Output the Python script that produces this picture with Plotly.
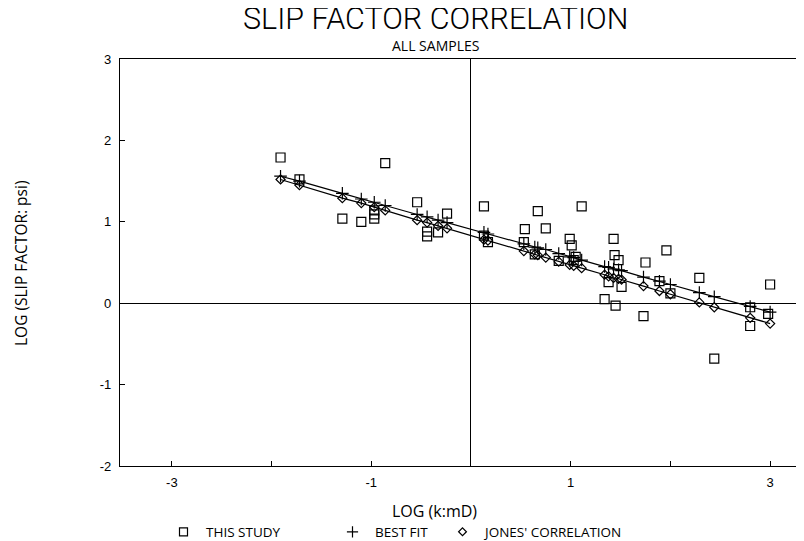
import plotly.graph_objects as go

# ---- data ----
study_x = [-1.91, -1.72, -1.29, -1.10, -0.97, -0.97, -0.97, -0.86, -0.54, -0.44,
           -0.44, -0.33, -0.24, 0.13, 0.13, 0.17, 0.53, 0.54, 0.64, 0.67,
           0.75, 0.88, 0.99, 1.01, 1.03, 1.05, 1.11, 1.34, 1.38, 1.43,
           1.44, 1.45, 1.48, 1.51, 1.73, 1.75, 1.89, 1.96, 2.00, 2.29,
           2.44, 2.80, 2.80, 2.98, 3.00]
study_y = [1.79, 1.52, 1.04, 1.00, 1.14, 1.09, 1.04, 1.72, 1.24, 0.88,
           0.82, 0.87, 1.10, 1.19, 0.83, 0.75, 0.75, 0.91, 0.60, 1.13,
           0.92, 0.52, 0.79, 0.71, 0.53, 0.57, 1.19, 0.05, 0.26, 0.79,
           0.59, -0.03, 0.53, 0.20, -0.16, 0.50, 0.27, 0.65, 0.12, 0.31,
           -0.68, -0.05, -0.28, -0.13, 0.23]

fit_x = [-1.91, -1.72, -1.29, -1.10, -0.97, -0.86, -0.54, -0.44, -0.33, -0.24,
         0.13, 0.17, 0.53, 0.64, 0.67, 0.75, 0.88, 0.99, 1.03, 1.11,
         1.34, 1.38, 1.43, 1.48, 1.51, 1.73, 1.89, 2.00, 2.29, 2.44,
         2.80, 3.00]
best_fit_y = [1.56, 1.50, 1.35, 1.28, 1.24, 1.20, 1.09, 1.06, 1.02, 0.99,
              0.87, 0.85, 0.73, 0.69, 0.68, 0.66, 0.61, 0.57, 0.56, 0.53,
              0.45, 0.44, 0.42, 0.41, 0.40, 0.32, 0.27, 0.23, 0.13, 0.08,
              -0.04, -0.11]
jones_y = [1.52, 1.45, 1.29, 1.23, 1.18, 1.14, 1.02, 0.99, 0.95, 0.92,
           0.78, 0.77, 0.64, 0.60, 0.59, 0.56, 0.51, 0.47, 0.46, 0.43,
           0.35, 0.33, 0.31, 0.30, 0.29, 0.21, 0.15, 0.11, 0.01, -0.05,
           -0.18, -0.25]

x_tick_vals = [-3, -2, -1, 0, 1, 2, 3]
x_tick_text = ["-3", "", "-1", "", "1", "", "3"]
y_tick_vals = [-2, -1, 0, 1, 2, 3]
y_tick_text = ["-2", "-1", "0", "1", "2", "3"]

series_names = ["THIS STUDY", "BEST FIT", "JONES' CORRELATION"]

FONT = "Liberation Sans"
TFONT = "Open Sans"
BLACK = "#000000"

fig = go.Figure()

fig.add_trace(go.Scatter(
    x=fit_x, y=best_fit_y, mode="lines+markers", name=series_names[1],
    line=dict(color=BLACK, width=1.2),
    marker=dict(symbol="cross-thin-open", size=9, color=BLACK,
                line=dict(color=BLACK, width=1.2)),
    showlegend=False))
fig.add_trace(go.Scatter(
    x=fit_x, y=jones_y, mode="lines+markers", name=series_names[2],
    line=dict(color=BLACK, width=1.2),
    marker=dict(symbol="diamond-open", size=7, color=BLACK,
                line=dict(color=BLACK, width=1.2)),
    showlegend=False))
fig.add_trace(go.Scatter(
    x=study_x, y=study_y, mode="markers", name=series_names[0],
    marker=dict(symbol="square-open", size=9, color=BLACK,
                line=dict(color=BLACK, width=1.2)),
    showlegend=False))

# legend-only entries (markers only, as in the reference)
legend_syms = [("square-open", 8), ("cross-thin-open", 8), ("diamond-open", 6)]
legend_ids = ["legend", "legend2", "legend3"]
for name, (sym, sz), lid in zip(series_names, legend_syms, legend_ids):
    fig.add_trace(go.Scatter(
        x=[None], y=[None], mode="markers", name=name, legend=lid,
        marker=dict(symbol=sym, size=sz, color=BLACK,
                    line=dict(color=BLACK, width=1.2)),
        showlegend=True))

# page has an 8px body margin, so figure coords = screen coords - 8
W, H = 804, 541
ML, MR, MT, MB = 112, 0, 51, 83
PW, PH = W - ML - MR, H - MT - MB
OFF = 8


def px_to_paper(sx, sy):
    fx, fy = sx - OFF, sy - OFF
    return (fx - ML) / PW, (H - MB - fy) / PH


leg_common = dict(orientation="h", yanchor="middle", xanchor="left",
                  bgcolor="rgba(0,0,0,0)", font=dict(family=TFONT, size=13.5, color=BLACK),
                  itemwidth=35, tracegroupgap=0)
lx1, ly = px_to_paper(161, 532)
lx2, _ = px_to_paper(330, 532)
lx3, _ = px_to_paper(440, 532)

tx, ty = px_to_paper(435, 18)
sx, sy = px_to_paper(435, 46)
xtx, xty = px_to_paper(434, 511)
ytx, yty = px_to_paper(21, 264)

fig.update_layout(
    width=W, height=H,
    margin=dict(l=ML, r=MR, t=MT, b=MB),
    paper_bgcolor="white", plot_bgcolor="white",
    font=dict(family=FONT, color=BLACK),
    legend=dict(x=lx1, y=ly, **leg_common),
    legend2=dict(x=lx2, y=ly, **leg_common),
    legend3=dict(x=lx3, y=ly, **leg_common),
    xaxis=dict(range=[-3.52, 3.42], showgrid=False, showline=True, mirror=True,
               linecolor=BLACK, linewidth=1.2, ticks="inside", ticklen=5,
               tickcolor=BLACK, tickwidth=1, tickvals=x_tick_vals, ticktext=x_tick_text,
               tickfont=dict(family=FONT, size=13, color=BLACK),
               zeroline=True, zerolinecolor=BLACK, zerolinewidth=1.2,
               ticklabelstandoff=4),
    yaxis=dict(range=[-2, 3], showgrid=False, showline=True, mirror=False,
               linecolor=BLACK, linewidth=1.2, ticks="inside", ticklen=5,
               tickcolor=BLACK, tickwidth=1, tickvals=y_tick_vals, ticktext=y_tick_text,
               tickfont=dict(family=FONT, size=13, color=BLACK),
               zeroline=True, zerolinecolor=BLACK, zerolinewidth=1.2,
               ticklabelstandoff=5),
    annotations=[
        dict(text="SLIP FACTOR CORRELATION", x=tx, y=ty, xref="paper", yref="paper",
             showarrow=False, xanchor="center", yanchor="middle",
             font=dict(family="Roboto", size=30.5, color=BLACK, weight=300)),
        dict(text="ALL SAMPLES", x=sx, y=sy, xref="paper", yref="paper",
             showarrow=False, xanchor="center", yanchor="middle",
             font=dict(family=TFONT, size=14, color=BLACK)),
        dict(text="LOG (k:mD)", x=xtx, y=xty, xref="paper", yref="paper",
             showarrow=False, xanchor="center", yanchor="middle",
             font=dict(family=TFONT, size=16, color=BLACK)),
        dict(text="LOG (SLIP FACTOR: psi)", x=ytx, y=yty, xref="paper", yref="paper",
             showarrow=False, xanchor="center", yanchor="middle", textangle=-90,
             font=dict(family=TFONT, size=15.5, color=BLACK)),
    ],
)

fig.write_html("out.html")
